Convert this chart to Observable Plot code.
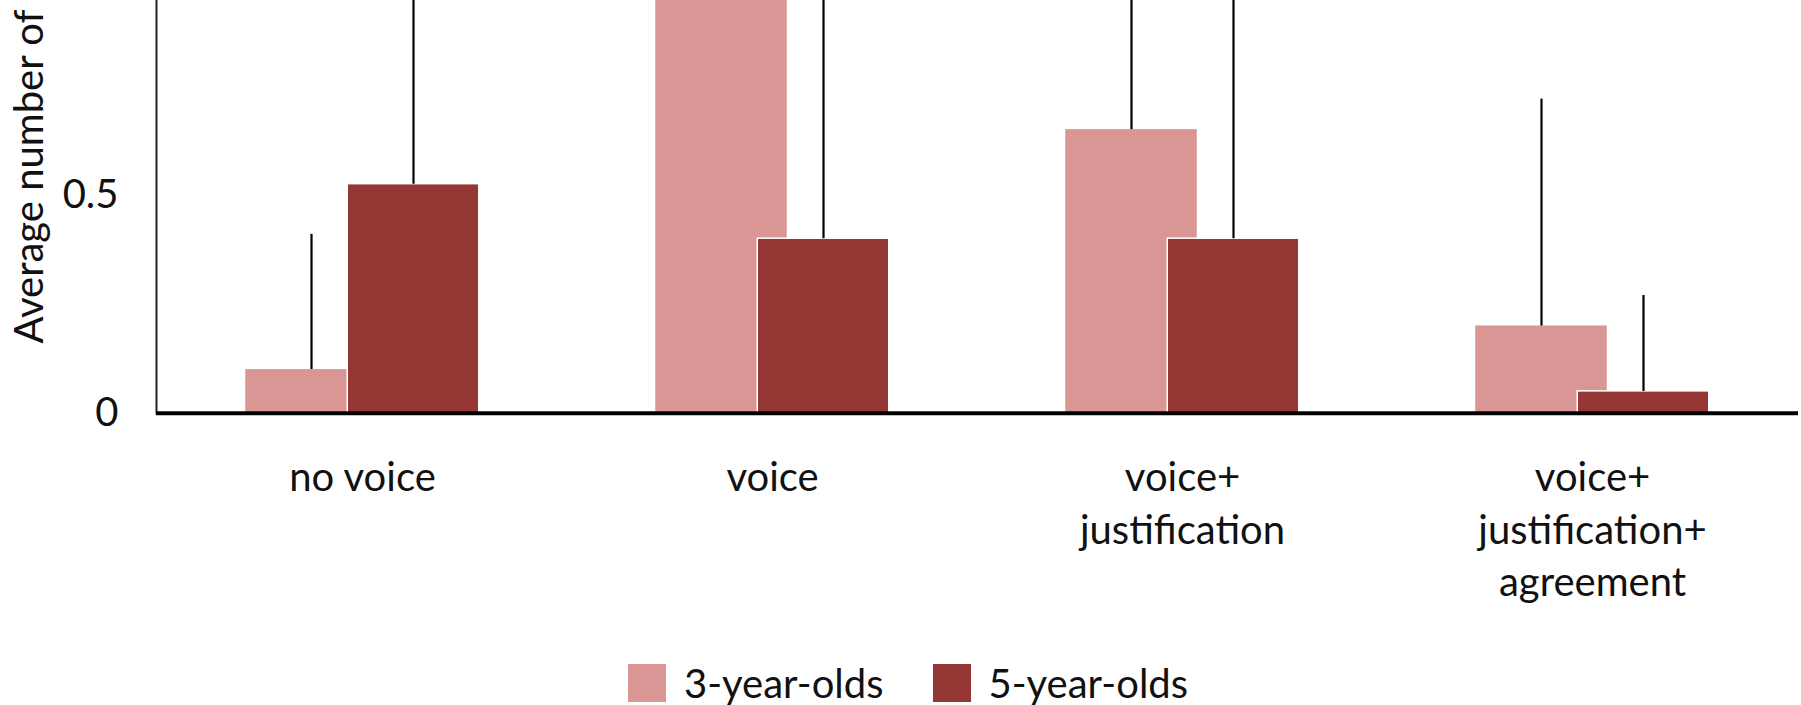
<!DOCTYPE html>
<html>
<head>
<meta charset="utf-8">
<script src="https://cdn.jsdelivr.net/npm/d3@7"></script>
<script src="https://cdn.jsdelivr.net/npm/@observablehq/plot@0.6"></script>
<style>
  html, body { margin: 0; padding: 0; background: #fff; }
  body { width: 1801px; height: 705px; overflow: hidden; font-family: Lato, "Open Sans", sans-serif; }
  #chart svg { display: block; }
  .legend { display: flex; justify-content: center; align-items: center; margin-top: 4px; padding-left: 15px; height: 38px; font-family: Lato, sans-serif; font-size: 40px; color: #111; }
  .legend .item { display: flex; align-items: center; }
  .legend .sw { width: 38px; height: 38px; margin-right: 18px; }
  .legend .item + .item { margin-left: 49px; }
</style>
</head>
<body>
<div id="chart"></div>
<div class="legend" id="legend"></div>
<script>
const categories = ["no voice", "voice", "voice+justification", "voice+justification+agreement"];
const tickLabels = ["no voice", "voice", "voice+\njustification", "voice+\njustification+\nagreement"];
const seriesNames = ["3-year-olds", "5-year-olds"];
const values3 = [0.10, 1.10, 0.65, 0.20];
const errors3 = [0.31, 0.85, 0.55, 0.52];
const values5 = [0.525, 0.40, 0.40, 0.05];
const errors5 = [0.62, 0.60, 0.60, 0.22];
const yTicks = [0, 0.5];
const yTickLabels = ["0", "0.5"];
const colors = ["#DA9694", "#953735"];

const data3 = categories.map((c, i) => ({category: c, value: values3[i], hi: values3[i] + errors3[i]}));
const data5 = categories.map((c, i) => ({category: c, value: values5[i], hi: values5[i] + errors5[i]}));

const W = 1801, H = 660;
const marginLeft = 156, marginRight = 3, marginTop = 0, marginBottom = H - 412.7;
const band = (W - marginLeft - marginRight) / categories.length;
const barW = 132, off = 51;
const inset = (band - barW) / 2;
const fontFamily = "Lato, 'Open Sans', sans-serif";

const chart = Plot.plot({
  width: W,
  height: H,
  marginLeft, marginRight, marginTop, marginBottom,
  style: {fontFamily, fontSize: "40px", color: "#111", background: "#fff"},
  x: {domain: categories, padding: 0},
  y: {domain: [0, 0.946]},
  marks: [
    Plot.barY(data3, {x: "category", y1: 0, y2: "value", fill: colors[0], dx: -off, insetLeft: inset, insetRight: inset, clip: true}),
    Plot.ruleX(data3, {x: "category", y1: "value", y2: "hi", dx: -off, stroke: "#000", strokeWidth: 2.2, clip: true}),
    Plot.barY(data5, {x: "category", y1: 0, y2: "value", fill: colors[1], stroke: "#fff", strokeWidth: 1.5, dx: off, insetLeft: inset, insetRight: inset, clip: true}),
    Plot.ruleX(data5, {x: "category", y1: "value", y2: "hi", dx: off, stroke: "#000", strokeWidth: 2.2, clip: true}),
    Plot.axisY({ticks: yTicks, tickSize: 0, tickPadding: 38, fontSize: 40, label: null, fill: "#111",
      tickFormat: (d) => yTickLabels[yTicks.indexOf(d)]}),
    Plot.axisX({tickSize: 0, tickPadding: 41, fontSize: 40, lineHeight: 1.31, label: null, fill: "#111",
      tickFormat: (d) => tickLabels[categories.indexOf(d)]}),
    Plot.frame({anchor: "left", stroke: "#222", strokeWidth: 2}),
    Plot.ruleY([0], {stroke: "#000", strokeWidth: 4}),
    Plot.text(["Average number of"], {frameAnchor: "bottom-left", rotate: -90, textAnchor: "start", lineAnchor: "bottom",
      dx: 42 - marginLeft, dy: 343 - 412.7, fontSize: 40, fill: "#111"})
  ]
});
document.getElementById("chart").appendChild(chart);

const legend = document.getElementById("legend");
seriesNames.forEach((name, i) => {
  const item = document.createElement("div");
  item.className = "item";
  const sw = document.createElement("span");
  sw.className = "sw";
  sw.style.background = colors[i];
  const label = document.createElement("span");
  label.textContent = name;
  item.appendChild(sw);
  item.appendChild(label);
  legend.appendChild(item);
});
</script>
</body>
</html>
